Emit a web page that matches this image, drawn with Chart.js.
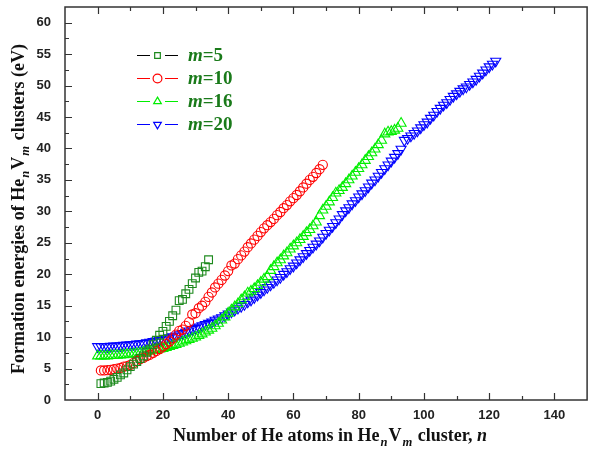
<!DOCTYPE html>
<html>
<head>
<meta charset="utf-8">
<script src="https://cdn.jsdelivr.net/npm/chart.js@4.4.0/dist/chart.umd.min.js"></script>
<style>
  html, body { margin: 0; padding: 0; background: #fff; overflow: hidden; }
  #wrap { width: 589px; height: 452px; overflow: hidden; }
</style>
</head>
<body>
<div id="wrap"><canvas id="chart" width="594" height="452"></canvas></div>
<script>
// m values and first n of each series
const mValues = ['5', '10', '16', '20'];
const firstN = [1, 1, 0, 0];

// formation energies (eV), one value per n
const energyM5 = [2.6, 2.7, 2.8, 3.0, 3.3, 3.6, 4.0, 4.3, 4.8, 5.3, 5.7, 6.1, 6.6, 7.0, 7.6, 8.1, 8.8,
  9.5, 10.3, 10.9, 11.7, 12.5, 13.4, 14.3, 15.8, 16.0, 16.9, 17.6, 18.5, 19.4, 20.3, 20.5, 21.2, 22.3];

const energyM10 = [4.7, 4.7, 4.75, 4.8, 4.9, 5.0, 5.1, 5.3, 5.4, 5.6, 5.9, 6.2, 6.5, 6.7, 7.0, 7.2, 7.5,
  7.8, 8.1, 8.5, 8.9, 9.3, 9.8, 10.4, 11.0, 11.2, 11.8, 12.4, 13.6, 13.8, 14.6, 15.0, 15.6, 16.4, 17.1,
  17.9, 18.5, 19.1, 19.8, 20.5, 21.4, 21.7, 22.4, 23.0, 23.6, 24.3, 24.9, 25.5, 26.1, 26.7, 27.3, 27.8,
  28.3, 28.8, 29.4, 29.9, 30.5, 31.0, 31.6, 32.1, 32.6, 33.2, 33.8, 34.4, 35.0, 35.5, 36.1, 36.7, 37.4];

const energyM16 = [7.0, 7.0, 7.0, 7.0, 7.05, 7.1, 7.1, 7.15, 7.2, 7.25, 7.3, 7.35, 7.4, 7.5, 7.6, 7.7,
  7.8, 7.9, 8.0, 8.1, 8.2, 8.35, 8.5, 8.65, 8.8, 9.0, 9.2, 9.4, 9.6, 9.8, 10.0, 10.25, 10.5, 10.8, 11.1,
  11.4, 11.8, 12.2, 12.7, 13.2, 13.8, 14.3, 14.8, 15.3, 15.9, 16.4, 17.0, 17.3, 17.7, 18.2, 18.7, 19.2,
  19.6, 20.6, 21.2, 21.8, 22.3, 22.9, 23.4, 24.0, 24.5, 25.0, 25.5, 26.0, 26.6, 27.1, 27.7, 28.3, 29.3,
  30.2, 30.8, 31.5, 32.2, 32.9, 33.3, 33.8, 34.4, 35.0, 35.6, 36.2, 36.8, 37.4, 38.1, 38.7, 39.3, 39.9,
  40.6, 41.3, 42.3, 42.6, 42.7, 42.9, 43.2, 44.0];

const energyM20 = [8.5, 8.5, 8.5, 8.5, 8.55, 8.6, 8.6, 8.65, 8.7, 8.75, 8.8, 8.85, 8.9, 8.95, 9.0, 9.1,
  9.2, 9.3, 9.4, 9.5, 9.6, 9.75, 9.9, 10.05, 10.2, 10.4, 10.6, 10.8, 11.0, 11.2, 11.4, 11.6, 11.8, 12.0,
  12.2, 12.4, 12.7, 12.9, 13.1, 13.4, 13.7, 14.0, 14.3, 14.6, 14.9, 15.2, 15.6, 15.9, 16.3, 16.7, 17.1,
  17.5, 17.9, 18.3, 18.7, 19.1, 19.5, 20.0, 20.4, 20.9, 21.3, 21.8, 22.3, 22.8, 23.3, 23.8, 24.3, 24.8,
  25.3, 25.9, 26.5, 27.0, 27.6, 28.2, 28.8, 29.5, 30.1, 30.6, 31.2, 31.7, 32.3, 32.8, 33.3, 33.9, 34.5,
  35.0, 35.6, 36.2, 36.8, 37.4, 38.0, 38.6, 39.2, 39.9, 41.3, 41.6, 42.0, 42.4, 42.8, 43.3, 43.8, 44.2,
  44.8, 45.3, 45.9, 46.4, 46.9, 47.3, 47.8, 48.3, 48.7, 49.1, 49.5, 49.8, 50.2, 50.6, 51.0, 51.5, 52.0,
  52.5, 53.0, 53.4, 53.9];

const xTickLabels = [0, 20, 40, 60, 80, 100, 120, 140];
const yTickLabels = [0, 5, 10, 15, 20, 25, 30, 35, 40, 45, 50, 55, 60];

const energies = [energyM5, energyM10, energyM16, energyM20];
const markerColors = ['#1e8a1e', '#ff0000', '#00ee00', '#0000ff'];
const legendLineColors = ['#000000', '#ff0000', '#00ee00', '#0000ff'];
const markerStyles = ['rect', 'circle', 'triangle', 'triangle'];
const markerRotation = [0, 0, 0, 180];
const markerRadius = [5.5, 4.6, 5.8, 5.8];

const datasets = energies.map((arr, i) => ({
  label: 'm=' + mValues[i],
  data: arr.map((e, k) => ({ x: firstN[i] + k, y: e })),
  showLine: false,
  backgroundColor: 'rgba(0,0,0,0)',
  borderColor: markerColors[i],
  pointBorderColor: markerColors[i],
  pointBackgroundColor: 'rgba(0,0,0,0)',
  pointStyle: markerStyles[i],
  rotation: markerRotation[i],
  pointRadius: markerRadius[i],
  pointBorderWidth: 1.1
}));

const SERIF = '"Liberation Serif", "Times New Roman", serif';
const SANS = '"Liberation Sans", Arial, sans-serif';

// draws text pieces in a row, subscripts smaller and lower
function drawRich(ctx, parts, cx, cy, size){
  const font = p => `${p.italic ? 'italic ' : ''}bold ${p.sub ? size * 0.7 : size}px ${SERIF}`;
  let total = 0;
  parts.forEach(p => { ctx.font = font(p); p.w = ctx.measureText(p.t).width + (p.sub ? 2 : 0); total += p.w; });
  let x = cx - total / 2;
  parts.forEach(p => {
    ctx.font = font(p);
    ctx.fillText(p.t, x + (p.sub ? 1 : 0), cy + (p.sub ? size * 0.4 : 0));
    x += p.w;
  });
}

const framePlugin = {
  id: 'frame',
  afterDraw(chart){
    const { ctx, chartArea: a, scales: { x, y } } = chart;
    ctx.save();
    ctx.strokeStyle = '#333';
    ctx.lineWidth = 1.5;
    ctx.strokeRect(a.left, a.top, a.right - a.left, a.bottom - a.top);
    ctx.lineWidth = 1.2;
    ctx.beginPath();
    for(let v = 0; v < 150; v += 10){
      const px = Math.round(x.getPixelForValue(v)) + 0.5;
      const len = v % 20 === 0 ? 7 : 4;
      ctx.moveTo(px, a.bottom); ctx.lineTo(px, a.bottom - len);
      ctx.moveTo(px, a.top); ctx.lineTo(px, a.top + len);
    }
    for(let v = 2.5; v < 62.5; v += 2.5){
      const py = Math.round(y.getPixelForValue(v)) + 0.5;
      const len = v % 5 === 0 ? 7 : 4;
      ctx.moveTo(a.left, py); ctx.lineTo(a.left + len, py);
    }
    ctx.stroke();

    // axis titles
    ctx.fillStyle = '#111';
    ctx.textBaseline = 'middle';
    ctx.textAlign = 'left';
    drawRich(ctx, [
      { t: 'Number of He atoms in He' }, { t: 'n', sub: true, italic: true }, { t: 'V' },
      { t: 'm', sub: true, italic: true }, { t: ' cluster, ' }, { t: 'n', italic: true }
    ], 330, 436, 18);
    ctx.save();
    ctx.translate(19, 209);
    ctx.rotate(-Math.PI / 2);
    drawRich(ctx, [
      { t: 'Formation energies of He' }, { t: 'n', sub: true, italic: true }, { t: 'V' },
      { t: 'm', sub: true, italic: true }, { t: ' clusters (eV)' }
    ], 0, 0, 18);
    ctx.restore();

    // legend
    const rows = [55, 78, 101, 124];
    const lx = 137;
    rows.forEach((ry, i) => {
      ctx.strokeStyle = legendLineColors[i];
      ctx.lineWidth = 1;
      ctx.beginPath();
      ctx.moveTo(lx, ry + 0.5); ctx.lineTo(lx + 13, ry + 0.5);
      ctx.moveTo(lx + 28, ry + 0.5); ctx.lineTo(lx + 41, ry + 0.5);
      ctx.stroke();
      ctx.strokeStyle = markerColors[i];
      ctx.fillStyle = 'rgba(0,0,0,0)';
      ctx.lineWidth = 1.2;
      Chart.helpers.drawPoint(ctx, {
        pointStyle: markerStyles[i], rotation: markerRotation[i],
        radius: i === 0 ? 4 : 4.4, borderWidth: 1.2
      }, lx + 20.5, ry + 0.5);
      ctx.fillStyle = '#1a7a1a';
      ctx.font = `italic bold 19px ${SERIF}`;
      ctx.fillText('m', lx + 51, ry + 1);
      const mw = ctx.measureText('m').width;
      ctx.font = `bold 19px ${SERIF}`;
      ctx.fillText('=' + mValues[i], lx + 51 + mw, ry + 1);
    });
    ctx.restore();
  }
};

new Chart(document.getElementById('chart'), {
  type: 'scatter',
  data: { datasets },
  options: {
    responsive: false,
    animation: false,
    layout: { padding: { left: 0, right: 0, top: 7, bottom: 0 } },
    plugins: { legend: { display: false }, tooltip: { enabled: false } },
    scales: {
      x: {
        type: 'linear', min: -10, max: 150,
        grid: { display: false, drawTicks: false },
        border: { display: false },
        afterBuildTicks: s => { s.ticks = xTickLabels.map(v => ({ value: v })); },
        afterFit: s => { s.height = 52; s.paddingLeft = 0; s.paddingRight = 0; },
        ticks: { padding: 8, color: '#222', font: { family: SANS, weight: 'bold', size: 13 } }
      },
      y: {
        type: 'linear', min: 0, max: 62.5,
        grid: { display: false, drawTicks: false },
        border: { display: false },
        afterBuildTicks: s => { s.ticks = yTickLabels.map(v => ({ value: v })); },
        afterFit: s => { s.width = 65; s.paddingTop = 0; s.paddingBottom = 0; },
        ticks: { padding: 14, color: '#222', font: { family: SANS, weight: 'bold', size: 13 } }
      }
    }
  },
  plugins: [framePlugin]
});
</script>
</body>
</html>
